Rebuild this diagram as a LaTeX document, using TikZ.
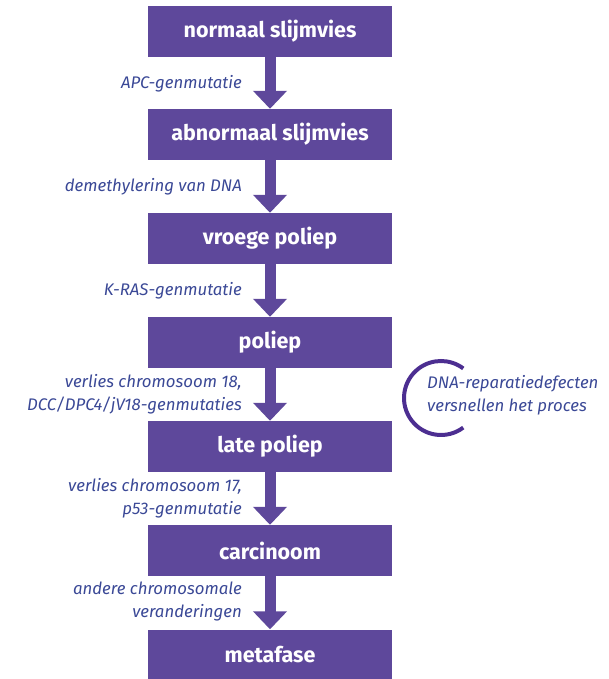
\documentclass[tikz,border=0pt]{standalone}
\usepackage{fontspec}
\setmainfont{Fira Sans}
\usetikzlibrary{arrows.meta}
\definecolor{paars}{RGB}{94,72,155}
\definecolor{boogpaars}{RGB}{76,46,145}
\definecolor{labelblauw}{RGB}{58,72,150}
\tikzset{
  stap/.style={fill=paars, text=white, minimum width=244pt, minimum height=51pt,
    inner sep=0pt, font=\fontsize{21.5}{24}\selectfont\bfseries},
  pijl/.style={draw=paars, line width=11pt, -{Triangle[width=33pt,length=18pt]}},
  uitleg/.style={text=labelblauw, anchor=east, align=right, inner sep=0pt,
    font=\fontsize{16.8}{23}\selectfont\itshape}
}
\begin{document}
\begin{tikzpicture}[x=1pt,y=-1pt]
	\useasboundingbox (0,0) rectangle (608,679);

	\node[stap] (normaal) at (270,31.5) {normaal slijmvies};
	\node[stap] (abnormaal) at (270,134.5) {abnormaal slijmvies};
	\node[stap] (vroeg) at (270,238.5) {vroege poliep};
	\node[stap] (poliep) at (270,342.5) {poliep};
	\node[stap] (laat) at (270,446.5) {late poliep};
	\node[stap] (carcinoom) at (270,550.5) {carcinoom};
	\node[stap] (metafase) at (270,655) {metafase};

	\draw[pijl] (normaal.south) -- (abnormaal.north);
	\draw[pijl] (abnormaal.south) -- (vroeg.north);
	\draw[pijl] (vroeg.south) -- (poliep.north);
	\draw[pijl] (poliep.south) -- (laat.north);
	\draw[pijl] (laat.south) -- (carcinoom.north);
	\draw[pijl] (carcinoom.south) -- (metafase.north);

	\node[uitleg] (apc) at (242,84) {APC-genmutatie};
	\node[uitleg] (demeth) at (242,187) {demethylering van DNA};
	\node[uitleg] (kras) at (242,291) {K-RAS-genmutatie};
	\node[uitleg] (chr18) at (242,394) {verlies chromosoom 18,\\DCC/DPC4/jV18-genmutaties};
	\node[uitleg] (chr17) at (242,498) {verlies chromosoom 17,\\p53-genmutatie};
	\node[uitleg] (andere) at (242,602) {andere chromosomale\\veranderingen};

	% boog met DNA-reparatie
	\draw[boogpaars, line width=4pt] (441,398) ++(53:37) arc[start angle=53, end angle=307, radius=37];
	\node[uitleg, anchor=west, align=left] (reparatie) at (427,395) {DNA-reparatiedefecten\\versnellen het proces};
\end{tikzpicture}
\end{document}
